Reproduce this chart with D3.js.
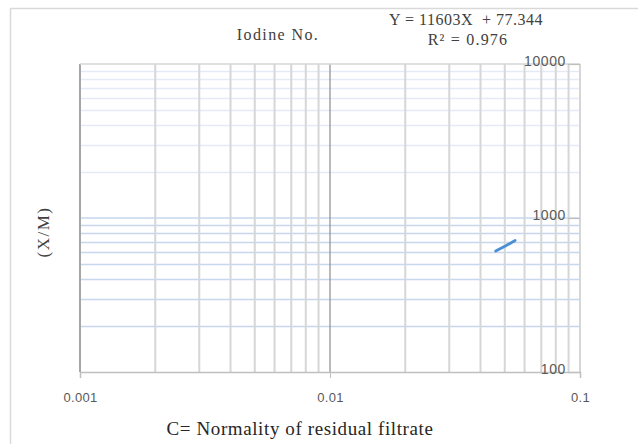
<!DOCTYPE html>
<html><head><meta charset="utf-8">
<script src="https://cdn.jsdelivr.net/npm/d3@7"></script>
<style>body{margin:0;background:#fff;}svg{display:block;}</style>
</head><body>
<svg id="c" width="638" height="444"></svg>
<script>
// Data
const concentration = [0.046, 0.0505, 0.055];   // C (N)
const xm = [610, 660, 715];                      // X/M
const xTickLabels = [0.001, 0.01, 0.1];
const yTickLabels = [100, 1000, 10000];
const chartTitle = "Iodine No.";
const eqLine1 = "Y = 11603X  + 77.344";
const eqLine2 = "R² = 0.976";
const xTitle = "C= Normality of residual filtrate";
const yTitle = "(X/M)";

const svg = d3.select("#c");
const L = 80, R = 580, T = 64, B = 372;
const x = d3.scaleLog().domain([0.001, 0.1]).range([L, R]);
const y = d3.scaleLog().domain([100, 10000]).range([B, T]);

// chart border
svg.append("rect").attr("x", 10.5).attr("y", 8.5).attr("width", 700).attr("height", 500)
  .attr("fill", "none").attr("stroke", "#d9d9d9").attr("stroke-width", 1.5);

// horizontal minor gridlines
const yMinor = [];
for (let d = 100; d < 10000; d *= 10) for (let k = 2; k <= 9; k++) yMinor.push(d * k);
svg.append("g").selectAll("line").data(yMinor).join("line")
  .attr("x1", L).attr("x2", R)
  .attr("y1", d => Math.round(y(d)) + 0.5).attr("y2", d => Math.round(y(d)) + 0.5)
  .attr("stroke", d => d < 1000 ? "#c6d7ee" : "#e4ebf6").attr("stroke-width", 1.5);
svg.append("line").attr("x1", L).attr("x2", R).attr("y1", y(1000)).attr("y2", y(1000))
  .attr("stroke", "#c6d7ee").attr("stroke-width", 1.5);

// vertical gridlines
const xMinor = [];
for (let d = 0.001; d < 0.09; d *= 10) for (let k = 1; k <= 9; k++) xMinor.push(+(d * k).toPrecision(3));
svg.append("g").selectAll("line").data(xMinor).join("line")
  .attr("x1", d => x(d)).attr("x2", d => x(d))
  .attr("y1", T).attr("y2", B)
  .attr("stroke", d => (d === 0.001 ? "#a6a6a6" : d === 0.01 ? "#8c8c8c" : "#d6d6d6"))
  .attr("stroke-width", d => (d === 0.01 ? 1.2 : 2));
svg.append("line").attr("x1", L).attr("x2", R).attr("y1", T).attr("y2", T)
  .attr("stroke", "#d6d6d6").attr("stroke-width", 1.5);
svg.append("line").attr("x1", R).attr("x2", R).attr("y1", T).attr("y2", B)
  .attr("stroke", "#d6d6d6").attr("stroke-width", 2);

// x axis
const xAxis = d3.axisBottom(x).tickValues(xTickLabels).tickSize(6)
  .tickFormat(d => String(d));
const gx = svg.append("g").attr("transform", `translate(0,${B})`).call(xAxis);
gx.select(".domain").attr("stroke", "#bfbfbf").attr("stroke-width", 1.5);
gx.selectAll(".tick line").attr("stroke", "#bfbfbf");
gx.selectAll(".tick text").attr("fill", "#595959").attr("font-family", "Liberation Sans, Arial, sans-serif")
  .attr("font-size", 13).attr("letter-spacing", 0.3).attr("dy", "1.6em");

// y axis on right with labels inside
const yAxis = d3.axisRight(y).tickValues(yTickLabels).tickSize(0).tickFormat(d3.format("d"));
const gy = svg.append("g").attr("transform", `translate(${R - 12},0)`).call(yAxis);
gy.select(".domain").remove();
gy.selectAll(".tick text").attr("x", -2).attr("text-anchor", "end").attr("dy", "0.1em")
  .attr("fill", "#595959").attr("font-family", "Liberation Sans, Arial, sans-serif")
  .attr("font-size", 14).attr("letter-spacing", 0.6);
gy.selectAll(".tick").append("line").attr("x1", 0).attr("x2", 12)
  .attr("stroke", "#bfbfbf").attr("stroke-width", 1.2);

// series line
const line = d3.line().x((d, i) => x(concentration[i])).y(d => y(d));
svg.append("path").datum(xm).attr("d", line)
  .attr("fill", "none").attr("stroke", "#4a8fd6").attr("stroke-width", 2.8).attr("stroke-linecap", "round");

// texts
const serif = "Liberation Serif, Times New Roman, serif";
svg.append("text").attr("x", 278).attr("y", 40).attr("text-anchor", "middle")
  .attr("font-family", serif).attr("font-size", 16).attr("letter-spacing", 1.4)
  .attr("fill", "#404040").text(chartTitle);
svg.append("text").attr("x", 466).attr("y", 25).attr("text-anchor", "middle")
  .attr("font-family", serif).attr("font-size", 16).attr("letter-spacing", 0.5).attr("fill", "#404040")
  .style("white-space", "pre").text(eqLine1);
svg.append("text").attr("x", 468).attr("y", 45).attr("text-anchor", "middle")
  .attr("font-family", serif).attr("font-size", 16).attr("letter-spacing", 1.2).attr("fill", "#404040").text(eqLine2);
svg.append("text").attr("x", 300).attr("y", 435).attr("text-anchor", "middle")
  .attr("font-family", serif).attr("font-size", 19).attr("letter-spacing", 0.6).attr("fill", "#262626")
  .style("white-space", "pre").text(xTitle);
svg.append("text").attr("transform", "translate(49,232) rotate(-90)").attr("text-anchor", "middle")
  .attr("font-family", serif).attr("font-size", 17).attr("letter-spacing", 1.5).attr("fill", "#404040").text(yTitle);
</script>
</body></html>
